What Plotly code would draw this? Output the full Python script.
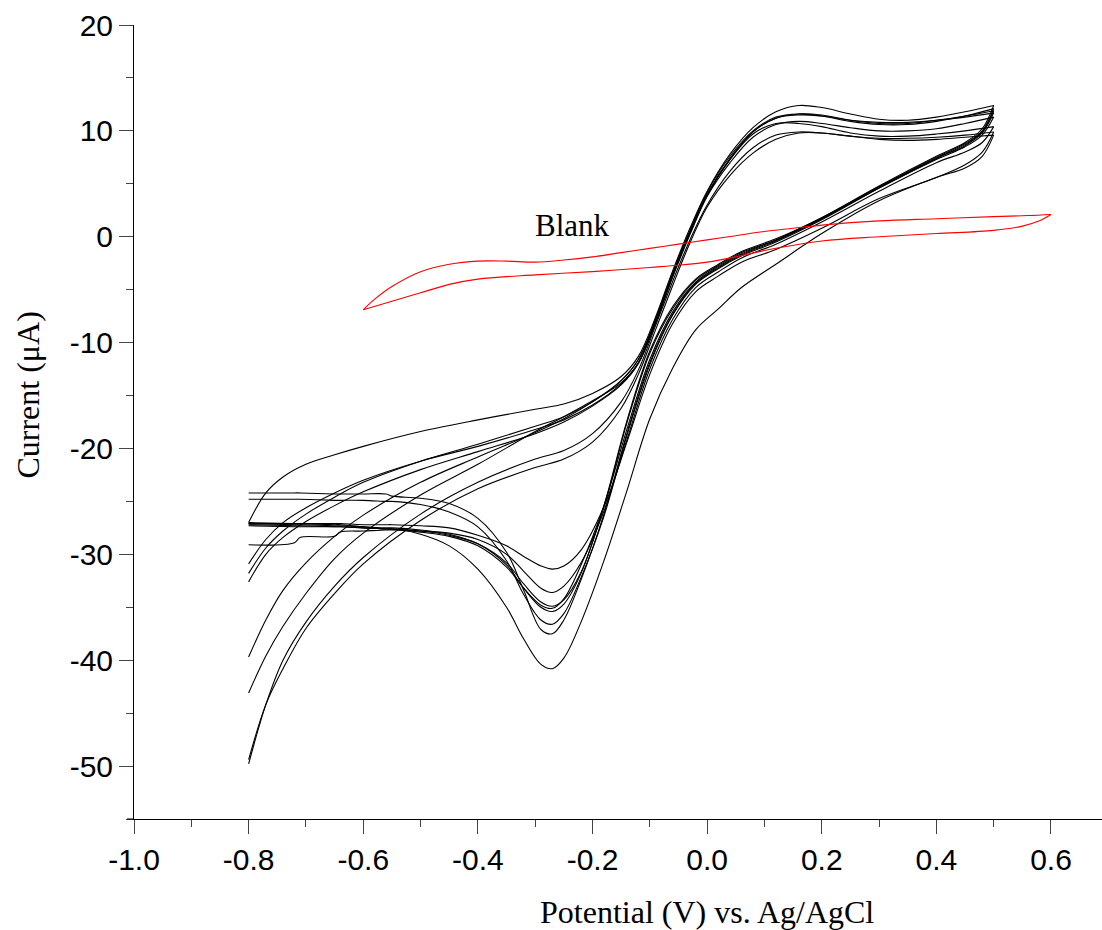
import plotly.graph_objects as go

# ---------------- data ----------------
# anodic (forward) sweep potentials, V
E_fwd = [-0.80, -0.77, -0.74, -0.70, -0.65, -0.60, -0.50, -0.40, -0.30, -0.25,
         -0.20, -0.15, -0.12, -0.09, -0.06, -0.03, 0.00, 0.04, 0.08, 0.12,
         0.16, 0.20, 0.25, 0.30, 0.35, 0.40, 0.45, 0.50]
# cathodic (reverse) sweep potentials, V
E_rev = [0.50, 0.48, 0.45, 0.40, 0.30, 0.20, 0.12, 0.06, 0.02, -0.02,
         -0.06, -0.10, -0.14, -0.18, -0.22, -0.25, -0.27, -0.29, -0.32, -0.35,
         -0.40, -0.45, -0.50, -0.55, -0.56, -0.60, -0.64, -0.65, -0.71, -0.72, -0.80]

# currents (uA), one list per cycle
fwd_1 = [-27.0, -24.2, -22.7, -21.5, -20.6, -19.8, -18.4, -17.3, -16.3, -15.8, -14.8, -13.2, -11.3, -7.6,
         -3.2, 0.8, 4.3, 7.8, 10.3, 11.8, 12.4, 12.2, 11.6, 11.1, 11.0, 11.3, 11.8, 12.4]
fwd_2 = [-31.8, -29.4, -27.8, -26.2, -24.6, -23.2, -21.2, -19.6, -17.9, -17.0, -15.6, -13.6, -11.6, -7.8,
         -3.4, 0.6, 4.2, 7.6, 10.0, 11.3, 11.6, 11.4, 10.9, 10.6, 10.6, 10.9, 11.4, 12.1]
fwd_3 = [-30.9, -28.6, -27.0, -25.6, -24.2, -23.0, -21.2, -19.8, -18.2, -17.3, -15.9, -13.9, -11.9, -8.0,
         -3.6, 0.4, 4.0, 7.4, 9.9, 11.2, 11.5, 11.4, 11.0, 10.8, 10.8, 11.0, 11.4, 11.9]
fwd_4 = [-32.6, -30.0, -28.4, -26.9, -25.4, -24.1, -22.0, -20.3, -18.6, -17.5, -16.0, -14.0, -12.0, -8.1,
         -3.7, 0.3, 3.9, 7.3, 9.9, 11.2, 11.6, 11.5, 11.0, 10.7, 10.7, 11.0, 11.3, 11.7]
fwd_5 = [-43.1, -39.6, -36.8, -33.7, -30.4, -28.0, -24.4, -21.5, -18.4, -17.0, -15.5, -13.8, -11.9, -8.2,
         -3.8, 0.2, 3.8, 7.0, 9.4, 10.6, 10.9, 10.7, 10.3, 10.0, 10.0, 10.2, 10.7, 11.3]
fwd_6 = [-39.7, -36.2, -33.4, -30.8, -28.3, -26.3, -23.2, -20.8, -18.5, -17.2, -15.6, -13.6, -11.6, -7.9,
         -3.5, 0.5, 4.0, 7.3, 9.7, 10.7, 10.7, 10.4, 9.8, 9.5, 9.5, 9.7, 10.0, 10.4]
fwd_7 = [-49.8, -44.2, -40.0, -36.4, -33.0, -30.3, -26.2, -23.2, -21.0, -20.2, -18.6, -15.6, -12.6, -8.4,
         -4.2, -0.3, 3.0, 6.2, 8.4, 9.6, 9.9, 9.8, 9.5, 9.3, 9.3, 9.4, 9.6, 9.9]
fwd_8 = [-49.4, -44.2, -40.8, -37.0, -33.7, -30.9, -26.8, -23.8, -21.8, -21.0, -19.4, -16.2, -13.0, -8.8,
         -4.6, -0.6, 2.8, 5.8, 7.9, 9.2, 9.8, 9.8, 9.5, 9.2, 9.1, 9.2, 9.4, 9.6]

rev_1 = [12.4, 10.2, 8.9, 7.6, 4.8, 1.8, -0.3, -1.6, -2.8, -4.3, -7.1, -11.6, -18.2, -25.4, -31.0, -34.2,
         -35.1, -34.8, -33.2, -31.2, -29.2, -28.3, -27.9, -27.6, -27.6, -27.5, -27.4, -27.4, -27.3, -27.3, -27.2]
rev_2 = [12.1, 10.0, 8.8, 7.5, 4.7, 1.7, -0.4, -1.7, -2.9, -4.4, -7.3, -11.9, -18.6, -26.2, -32.4, -36.2,
         -37.5, -37.1, -33.4, -29.8, -26.6, -25.2, -24.7, -24.5, -24.3, -24.3, -24.3, -24.3, -24.2, -24.2, -24.2]
rev_3 = [11.9, 9.9, 8.7, 7.4, 4.6, 1.6, -0.5, -1.8, -3.0, -4.5, -7.4, -12.1, -18.8, -26.4, -32.2, -35.6,
         -36.6, -36.2, -33.8, -30.6, -27.4, -26.0, -25.3, -25.0, -25.0, -24.9, -24.9, -24.9, -24.8, -24.8, -24.8]
rev_4 = [11.7, 9.8, 8.6, 7.4, 4.7, 1.8, -0.2, -1.4, -2.6, -4.0, -6.6, -10.8, -17.4, -25.4, -31.8, -34.7,
         -35.4, -35.0, -33.2, -31.0, -29.0, -28.1, -27.7, -27.5, -27.5, -27.4, -27.3, -27.3, -27.2, -27.2, -27.1]
rev_5 = [11.3, 9.6, 8.5, 7.3, 4.6, 1.7, -0.3, -1.5, -2.7, -4.1, -6.8, -11.0, -17.6, -25.5, -31.7, -34.3,
         -34.9, -34.5, -32.8, -30.8, -29.0, -28.2, -27.8, -27.6, -27.6, -27.5, -27.4, -27.4, -27.4, -27.4, -27.3]
rev_6 = [10.4, 8.9, 8.0, 7.0, 4.3, 1.4, -0.7, -2.0, -3.3, -4.8, -7.8, -12.5, -19.2, -25.9, -30.8, -33.0,
         -33.6, -33.2, -31.6, -30.0, -28.6, -28.0, -27.8, -27.7, -27.7, -27.8, -27.9, -28.3, -28.4, -28.9, -29.1]
rev_7 = [9.9, 8.0, 6.8, 5.6, 3.6, 0.8, -1.2, -2.4, -3.7, -5.2, -8.2, -13.0, -19.4, -25.5, -29.6, -31.1,
         -31.4, -31.1, -30.2, -29.2, -28.2, -27.5, -27.3, -27.2, -27.2, -27.2, -27.1, -27.1, -27.1, -27.1, -27.1]
rev_8 = [9.6, 7.6, 6.5, 5.6, 3.4, 0.3, -2.6, -4.8, -6.8, -8.8, -12.4, -17.2, -24.0, -30.6, -36.4, -39.8,
         -40.8, -40.4, -38.0, -35.0, -31.4, -29.2, -28.1, -27.6, -27.6, -27.4, -27.2, -27.2, -27.1, -27.1, -27.0]

fwd_cycles = [fwd_1, fwd_2, fwd_3, fwd_4, fwd_5, fwd_6, fwd_7, fwd_8]
rev_cycles = [rev_1, rev_2, rev_3, rev_4, rev_5, rev_6, rev_7, rev_8]

# blank (red) loop
E_blank_fwd = [-0.60, -0.58, -0.55, -0.50, -0.45, -0.40, -0.35, -0.30, -0.25, -0.20, -0.15, -0.10,
               -0.05, 0.00, 0.05, 0.10, 0.15, 0.20, 0.30, 0.40, 0.50, 0.56, 0.60]
I_blank_fwd = [-6.9, -5.9, -4.7, -3.3, -2.6, -2.3, -2.3, -2.4, -2.2, -1.9, -1.5, -1.1,
               -0.7, -0.3, 0.1, 0.5, 0.8, 1.1, 1.5, 1.7, 1.9, 2.0, 2.1]
E_blank_rev = [0.60, 0.58, 0.55, 0.50, 0.40, 0.30, 0.20, 0.10, 0.05, 0.00, -0.05, -0.10, -0.20,
               -0.30, -0.40, -0.45, -0.50, -0.55, -0.60]
I_blank_rev = [2.1, 1.5, 1.0, 0.6, 0.3, 0.0, -0.4, -1.3, -1.9, -2.4, -2.7, -2.9, -3.3,
               -3.6, -4.0, -4.5, -5.3, -6.1, -6.9]

x_tickvals = [-1.0, -0.8, -0.6, -0.4, -0.2, 0.0, 0.2, 0.4, 0.6]
x_ticktext = ["-1.0", "-0.8", "-0.6", "-0.4", "-0.2", "0.0", "0.2", "0.4", "0.6"]
y_tickvals = [-50, -40, -30, -20, -10, 0, 10, 20]
y_ticktext = ["-50", "-40", "-30", "-20", "-10", "0", "10", "20"]

# ---------------- figure ----------------
fig = go.Figure()
line_black = dict(color="black", width=1.1, shape="spline", smoothing=1.0)
for f, r in zip(fwd_cycles, rev_cycles):
    fig.add_trace(go.Scatter(x=E_fwd, y=f, mode="lines", line=line_black,
                             showlegend=False, hoverinfo="skip"))
    fig.add_trace(go.Scatter(x=E_rev, y=r, mode="lines", line=line_black,
                             showlegend=False, hoverinfo="skip"))

line_red = dict(color="#ff0000", width=1.1, shape="spline", smoothing=1.0)
fig.add_trace(go.Scatter(x=E_blank_fwd, y=I_blank_fwd, mode="lines", line=line_red,
                         showlegend=False, hoverinfo="skip"))
fig.add_trace(go.Scatter(x=E_blank_rev, y=I_blank_rev, mode="lines", line=line_red,
                         showlegend=False, hoverinfo="skip"))

sans = "Liberation Sans, Arial, sans-serif"
serif = "Liberation Serif, Times New Roman, serif"

fig.update_layout(
    width=1102, height=930, autosize=False,
    margin=dict(l=134, r=0, t=25, b=111),
    paper_bgcolor="white", plot_bgcolor="white",
    showlegend=False,
    xaxis=dict(
        range=[-1.0, 0.689], showgrid=False, zeroline=False,
        showline=True, linecolor="black", linewidth=1,
        ticks="outside", ticklen=14, tickwidth=1, tickcolor="#444",
        tickvals=x_tickvals, ticktext=x_ticktext,
        tickfont=dict(family=sans, size=30, color="black"),
        minor=dict(ticks="outside", ticklen=7, tickwidth=1, tickcolor="#444",
                   tickmode="linear", tick0=-1.0, dtick=0.1, showgrid=False),
    ),
    yaxis=dict(
        range=[-55, 20], showgrid=False, zeroline=False,
        showline=True, linecolor="black", linewidth=1,
        ticks="outside", ticklen=14, tickwidth=1, tickcolor="#444",
        tickvals=y_tickvals, ticktext=y_ticktext,
        tickfont=dict(family=sans, size=30, color="black"),
        minor=dict(ticks="outside", ticklen=7, tickwidth=1, tickcolor="#444",
                   tickmode="linear", tick0=-55, dtick=5, showgrid=False),
    ),
    shapes=[
        dict(type="line", xref="paper", yref="paper", x0=-7 / 968, x1=0, y0=0, y1=0,
             line=dict(color="black", width=1)),
    ],
    annotations=[
        dict(text="Potential (V) vs. Ag/AgCl", xref="x", yref="paper", x=0.0, y=-0.117,
             xanchor="center", yanchor="middle", showarrow=False,
             font=dict(family=serif, size=32, color="black")),
        dict(text="Current (μA)", xref="paper", yref="y", x=-0.1095, y=-15.0,
             xanchor="center", yanchor="middle", showarrow=False, textangle=-90,
             font=dict(family=serif, size=32, color="black")),
        dict(text="Blank", xref="x", yref="y", x=-0.235, y=1.1,
             xanchor="center", yanchor="middle", showarrow=False,
             font=dict(family=serif, size=31, color="black")),
    ],
)

fig.write_html("out.html")
